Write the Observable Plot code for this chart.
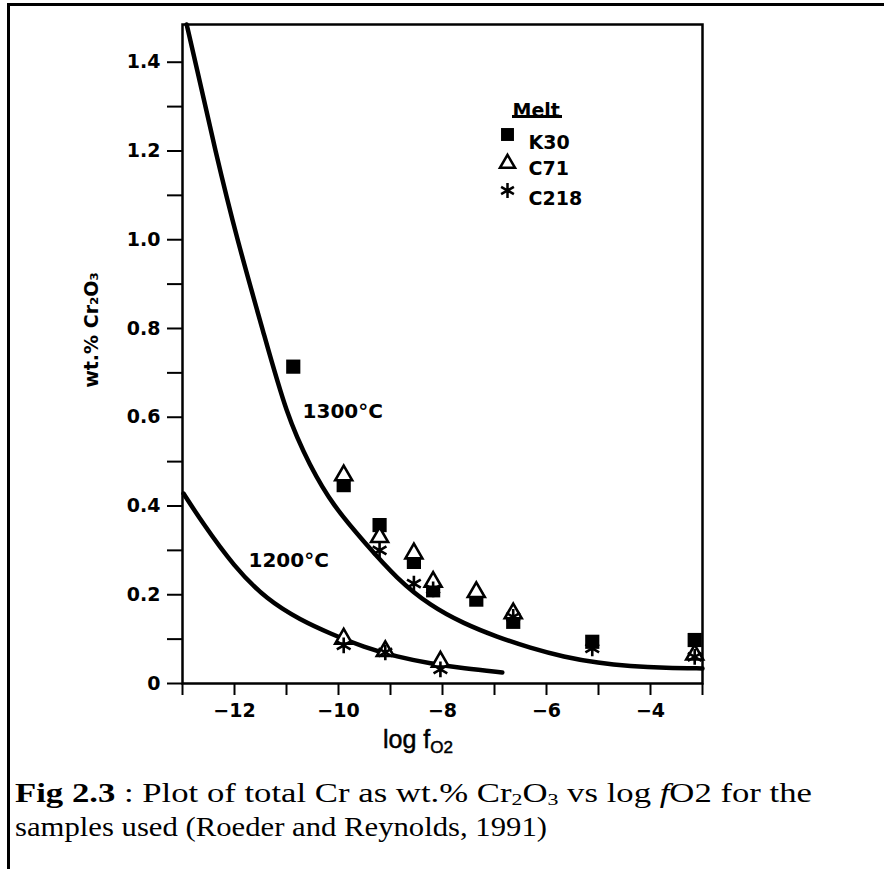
<!DOCTYPE html>
<html><head><meta charset="utf-8">
<script src="https://cdn.jsdelivr.net/npm/d3@7"></script>
<script src="https://cdn.jsdelivr.net/npm/@observablehq/plot@0.6"></script>
<style>
html,body{margin:0;padding:0;background:#fff;}
#page{position:relative;width:884px;height:869px;overflow:hidden;background:#fff;}
#border{position:absolute;left:7px;top:3px;width:900px;height:900px;border-top:3px solid #000;border-left:3px solid #000;box-sizing:border-box;z-index:5;}
#chart{position:absolute;left:0;top:0;z-index:1;}
#xlabel{position:absolute;left:383px;top:727px;font-family:"Liberation Sans",Arial,sans-serif;font-size:25px;line-height:25px;color:#000;white-space:nowrap;-webkit-text-stroke:0.5px #000;z-index:2;}
#xlabel .sub{font-size:17px;position:relative;top:5px;}
#underline{position:absolute;left:512px;top:115px;width:50px;height:2.5px;background:#000;z-index:2;}
#caption{position:absolute;left:15px;top:778px;font-family:"Liberation Serif","Times New Roman",serif;font-size:27px;line-height:31px;color:#000;white-space:nowrap;z-index:2;}
#caption > div{transform-origin:0 0;}
#caption sub{font-size:17px;vertical-align:baseline;position:relative;top:3px;}
</style></head>
<body><div id="page">
<div id="border"></div>
<div id="chart"></div>
<div id="xlabel">log f<span class="sub">O2</span></div>
<div id="underline"></div>
<div id="caption"><div id="cap1"><b>Fig 2.3</b> : Plot of total Cr as wt.% Cr<sub>2</sub>O<sub>3</sub> vs log <i>f</i>O2 for the</div><div id="cap2">samples used (Roeder and Reynolds, 1991)</div></div>
</div>
<script>
// ---- data ----
const seriesNames = ["K30", "C71", "C218"];
const k30X = [-10.87, -9.90, -9.21, -8.55, -8.18, -7.35, -6.64, -5.12, -3.15];
const k30Y = [0.714, 0.447, 0.357, 0.274, 0.210, 0.189, 0.139, 0.094, 0.098];
const c71X = [-9.90, -9.21, -8.55, -8.18, -7.35, -6.64, -3.15, -9.90, -9.10, -8.04];
const c71Y = [0.469, 0.330, 0.293, 0.229, 0.206, 0.158, 0.065, 0.101, 0.073, 0.049];
const c218X = [-9.21, -8.55, -8.18, -6.64, -5.12, -3.15, -9.90, -9.10, -8.04];
const c218Y = [0.300, 0.225, 0.212, 0.150, 0.079, 0.060, 0.086, 0.070, 0.032];
const curve1300X = [-12.92, -12.75, -12.37, -11.95, -11.44, -11.0, -10.55, -10.1, -9.5, -8.87, -8.23, -7.59, -6.95, -6.31, -5.67, -5.0, -4.4, -3.7, -3.0];
const curve1300Y = [1.485, 1.40, 1.20, 1.00, 0.79, 0.605, 0.49, 0.40, 0.318, 0.235, 0.175, 0.135, 0.105, 0.080, 0.060, 0.046, 0.039, 0.035, 0.034];
const curve1200X = [-12.98, -12.65, -12.01, -11.37, -10.73, -10.15, -9.51, -8.87, -8.23, -7.59, -6.85];
const curve1200Y = [0.428, 0.368, 0.263, 0.188, 0.143, 0.112, 0.082, 0.060, 0.045, 0.034, 0.025];
const curveLabels = ["1300°C", "1200°C"];
const curveLabelX = [-10.69, -11.73];
const curveLabelY = [0.613, 0.276];
const xTicks = [-13, -12, -11, -10, -9, -8, -7, -6, -5, -4, -3];
const yTicks = [0, 0.1, 0.2, 0.3, 0.4, 0.5, 0.6, 0.7, 0.8, 0.9, 1.0, 1.1, 1.2, 1.3, 1.4];
const xDomain = [-13, -3];
const yDomain = [0, 1.485];
const yTitle = "wt.% Cr₂O₃";
const legendTitle = "Melt";

const pts = (xs, ys) => xs.map((x, i) => ({x, y: ys[i]}));
const k30 = pts(k30X, k30Y), c71 = pts(c71X, c71Y), c218 = pts(c218X, c218Y);
const c1300 = pts(curve1300X, curve1300Y), c1200 = pts(curve1200X, curve1200Y);
const labels = curveLabels.map((t, i) => ({t, x: curveLabelX[i], y: curveLabelY[i]}));
const symbols = {K30: "square", C71: "triangle", C218: "asterisk"};

const legendMarks = [];
legendMarks.push(Plot.text([legendTitle], {frameAnchor: "top-left", dx: 330, dy: 79, textAnchor: "start"}));
const legDy = [110, 139, 166];
const legTextDy = [111, 137, 167];
seriesNames.forEach((s, i) => {
  const sym = symbols[s];
  legendMarks.push(Plot.dot([s], {frameAnchor: "top-left", dx: 325, dy: legDy[i], symbol: sym,
    r: sym === "square" ? 7.3 : sym === "triangle" ? 5.6 : 7,
    fill: sym === "square" ? "black" : sym === "triangle" ? "white" : "none",
    stroke: sym === "square" ? "none" : "black", strokeWidth: 2.5}));
  legendMarks.push(Plot.text([s], {frameAnchor: "top-left", dx: 346, dy: legTextDy[i], textAnchor: "start"}));
});

const xFmt = d3.format("");
const yFmt = d3.format(".1f");

const chart = Plot.plot({
  width: 884, height: 760,
  marginLeft: 182, marginRight: 182, marginTop: 24, marginBottom: 77,
  x: {domain: xDomain},
  y: {domain: yDomain},
  style: {fontFamily: "DejaVu Sans", fontWeight: "bold", fontSize: "19px", color: "#000", background: "transparent", overflow: "visible"},
  marks: [
    Plot.axisX({ticks: xTicks, tickSize: 12, tickPadding: 8, strokeWidth: 2, label: null,
      tickFormat: d => (d % 2 === 0 ? xFmt(d) : "")}),
    Plot.axisY({ticks: yTicks, tickSize: 15, tickPadding: 7, strokeWidth: 2, label: null,
      tickFormat: d => (Math.round(d * 10) % 2 === 0 ? (d === 0 ? "0" : yFmt(d)) : "")}),
    Plot.text([yTitle], {frameAnchor: "left", textAnchor: "middle", lineAnchor: "middle", rotate: -90, dx: -91, dy: -24, fontSize: 19}),
    Plot.frame({stroke: "black", strokeWidth: 2.5}),
    Plot.line(c1300, {x: "x", y: "y", curve: "basis", stroke: "black", strokeWidth: 4.5}),
    Plot.line(c1200, {x: "x", y: "y", curve: "basis", stroke: "black", strokeWidth: 4.5}),
    Plot.dot(k30, {x: "x", y: "y", symbol: "square", r: 8, fill: "black"}),
    Plot.dot(c71, {x: "x", y: "y", symbol: "triangle", r: 6.3, fill: "white", stroke: "black", strokeWidth: 2.6}),
    Plot.dot(c218, {x: "x", y: "y", symbol: "asterisk", r: 7.5, stroke: "black", strokeWidth: 2.6}),
    Plot.text(labels, {x: "x", y: "y", text: "t", textAnchor: "start", fontSize: 20}),
    ...legendMarks
  ]
});
document.getElementById("chart").appendChild(chart);

// stretch each caption line horizontally to the width of the original's line
(function () {
  const lines = [["cap1", 797], ["cap2", 532]];
  for (const [id, target] of lines) {
    const el = document.getElementById(id);
    el.style.display = "inline-block";
    const w = el.getBoundingClientRect().width;
    el.style.display = "block";
    el.style.transform = "scaleX(" + (target / w) + ")";
  }
})();
</script>
</body></html>
